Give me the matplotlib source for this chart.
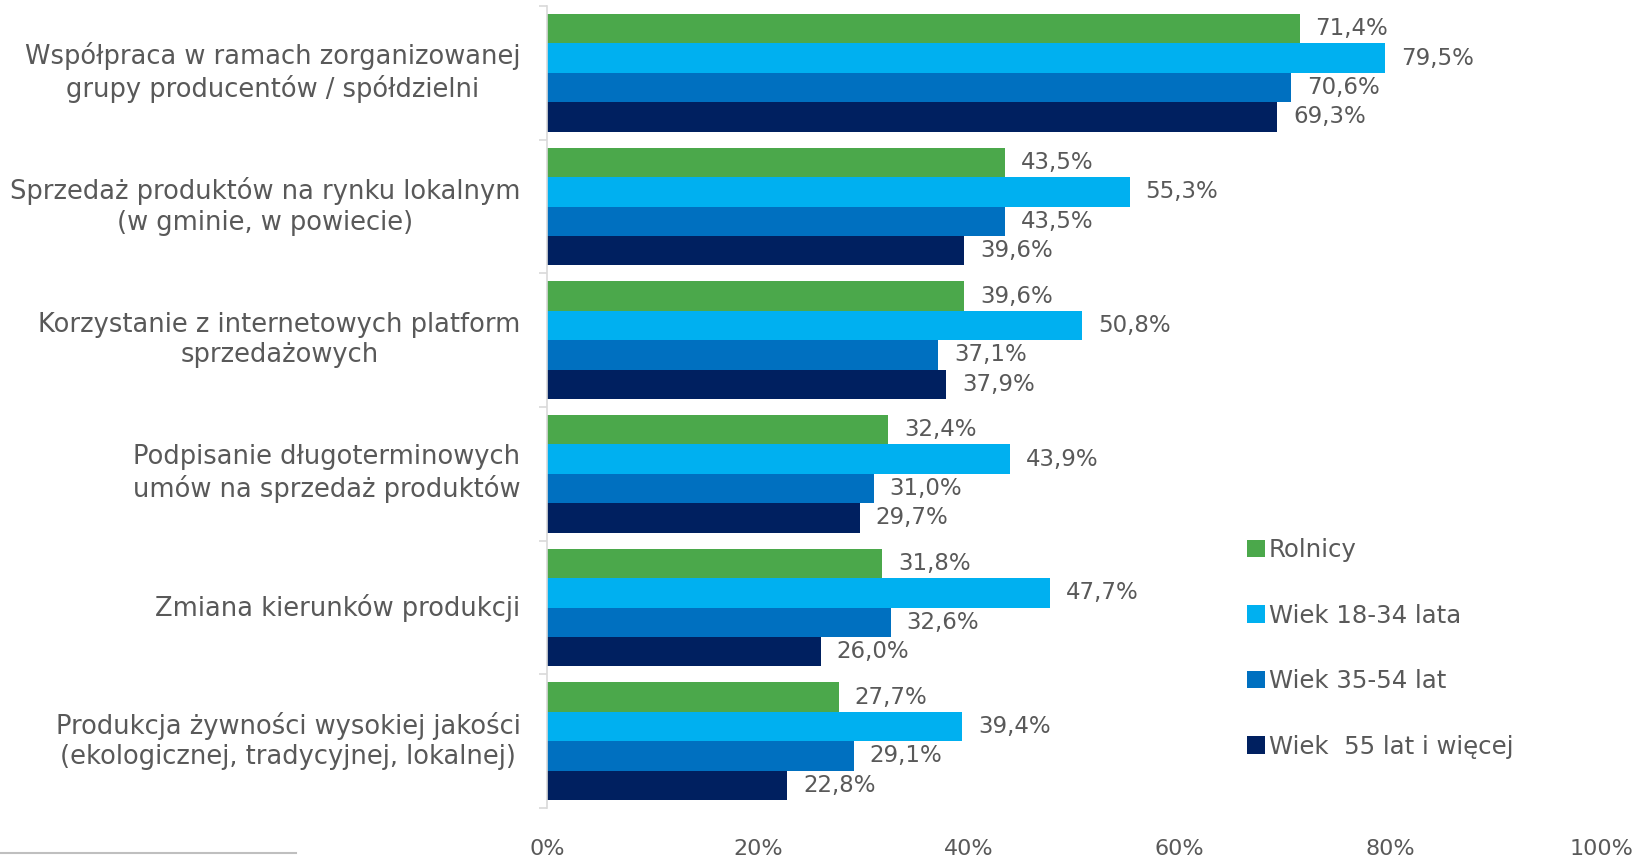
import matplotlib
matplotlib.use("Agg")
import matplotlib.pyplot as plt
import numpy as np
from matplotlib.patches import Patch
from matplotlib.lines import Line2D

categories = [
    "Współpraca w ramach zorganizowanej\ngrupy producentów / spółdzielni",
    "Sprzedaż produktów na rynku lokalnym\n(w gminie, w powiecie)",
    "Korzystanie z internetowych platform\nsprzedażowych",
    "Podpisanie długoterminowych\numów na sprzedaż produktów",
    "Zmiana kierunków produkcji",
    "Produkcja żywności wysokiej jakości\n(ekologicznej, tradycyjnej, lokalnej)",
]
series_names = ["Rolnicy", "Wiek 18-34 lata", "Wiek 35-54 lat", "Wiek  55 lat i więcej"]
rolnicy = [71.4, 43.5, 39.6, 32.4, 31.8, 27.7]
wiek_18_34 = [79.5, 55.3, 50.8, 43.9, 47.7, 39.4]
wiek_35_54 = [70.6, 43.5, 37.1, 31.0, 32.6, 29.1]
wiek_55 = [69.3, 39.6, 37.9, 29.7, 26.0, 22.8]
xticks = [0, 20, 40, 60, 80, 100]
xtick_labels = ["0%", "20%", "40%", "60%", "80%", "100%"]

colors = ["#4BA84B", "#00B0F0", "#0070C0", "#002060"]
text_color = "#595959"
FONT = "DejaVu Sans"
plt.rcParams['font.family'] = [FONT]

fig = plt.figure(figsize=(16.36, 8.56), dpi=100)
ax = fig.add_axes([547/1636, 1-808/856, (1601-547)/1636, (808-6)/856])

series = [rolnicy, wiek_18_34, wiek_35_54, wiek_55]
n = len(categories)
y = np.arange(n)
h = 0.22
offsets = [-1.5*h, -0.5*h, 0.5*h, 1.5*h]
for s, vals in enumerate(series):
    ax.barh(y + offsets[s], vals, height=h, color=colors[s], label=series_names[s])
    for yi, v in zip(y, vals):
        ax.text(v + 1.5, yi + offsets[s], f"{v:.1f}%".replace(".", ","),
                va="center", ha="left", fontsize=16.5, color=text_color)

ax.set_xlim(0, 100)
ax.set_ylim(n - 0.5, -0.5)
ax.set_xticks(xticks)
ax.set_xticklabels(xtick_labels, fontsize=16, color=text_color)
ax.tick_params(axis="x", length=0, pad=22)
ax.set_yticks(y)
ax.set_yticklabels([])
ax.tick_params(axis="y", which="major", length=0)
for yi, lab in zip(y, categories):
    ax.annotate(lab, xy=(0, yi), xycoords=("axes fraction", "data"),
                xytext=(-19, 0), textcoords="offset points",
                ha="right", va="center", multialignment="center",
                fontsize=18.5, color=text_color, linespacing=1.23)
ax.set_yticks(np.arange(n + 1) - 0.5, minor=True)
ax.tick_params(axis="y", which="minor", length=6, color="#D9D9D9", width=1.2)
for sp in ["top", "right", "bottom"]:
    ax.spines[sp].set_visible(False)
ax.spines["left"].set_color("#D9D9D9")
ax.spines["left"].set_linewidth(1.2)

handles = [Patch(facecolor=c, edgecolor="none") for c in colors]
leg = fig.legend(handles, series_names, loc="upper left",
                 bbox_to_anchor=(1247/1636, 1-538/856), frameon=False,
                 fontsize=17.6, labelcolor=text_color, handlelength=0.72,
                 handleheight=0.72, handletextpad=0.18, labelspacing=1.7,
                 borderaxespad=0, borderpad=0)

fig.add_artist(Line2D([0, 296/1636], [1-853/856, 1-853/856],
                      transform=fig.transFigure, color="#BFBFBF", lw=1.5))

fig.savefig("out.png", dpi=100)
